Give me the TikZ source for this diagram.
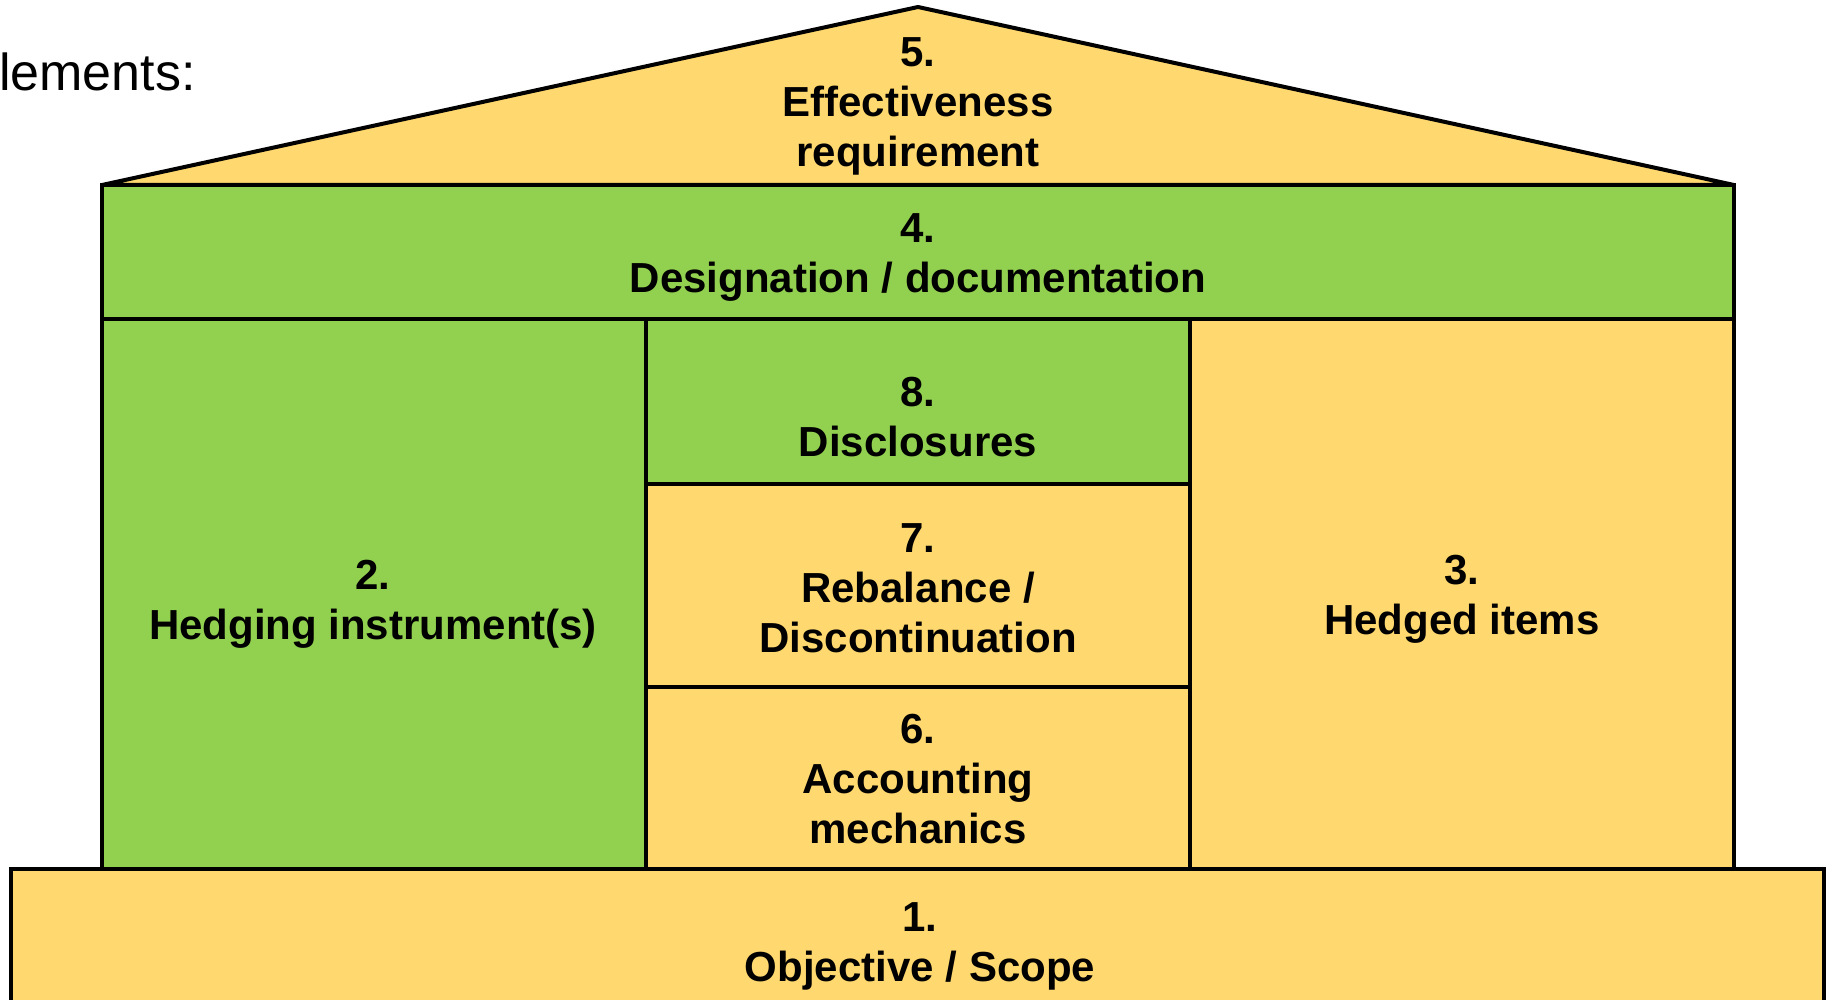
\documentclass[tikz,border=0pt]{standalone}
\usepackage{fontspec}
\setmainfont{Liberation Sans}
\begin{document}
\begin{tikzpicture}[x=1pt,y=-1pt,
  yel/.style={fill=houseyellow,draw=black,line width=4pt,line join=miter},
  grn/.style={fill=housegreen,draw=black,line width=4pt,line join=miter},
  lbl/.style={align=center,inner sep=0pt,font=\fontsize{42}{50}\selectfont\bfseries}]
\definecolor{houseyellow}{HTML}{FFD96F}
\definecolor{housegreen}{HTML}{92D050}
\clip (0,0) rectangle (1828,1000);
\fill[white] (0,0) rectangle (1828,1000);

% heading
\node[anchor=base west,inner sep=0pt,font=\fontsize{52}{60}\selectfont] (head) at (-1,91) {lements:};

% roof (bevelled so the eaves do not poke out past the walls)
\draw[yel,line join=bevel] (102,185) -- (918,7) -- (1734,185) -- cycle;
% band under the roof
\draw[grn] (102,185) rectangle (1734,319);
% pillars
\draw[grn] (102,319) rectangle (646,869);
\draw[yel] (1190,319) rectangle (1734,869);
% middle stack
\draw[grn] (646,319) rectangle (1190,484);
\draw[yel] (646,484) rectangle (1190,687);
\draw[yel] (646,687) rectangle (1190,869);
% foundation
\draw[yel] (11,869) rectangle (1824,1020);

% labels
\node[lbl] (roof)  at (918,106) {5.\\Effectiveness\\requirement};
\node[lbl] (band)  at (918,258) {4.\\Designation / documentation};
\node[lbl] (left)  at (373,604) {2.\\Hedging instrument(s)};
\node[lbl] (right) at (1462,599) {3.\\Hedged items};
\node[lbl] (disc)  at (918,417) {8.\\Disclosures};
\node[lbl] (rebal) at (918,588) {7.\\Rebalance /\\Discontinuation};
\node[lbl] (mech)  at (918,779) {6.\\Accounting\\mechanics};
\node[lbl] (base)  at (920,946) {1.\\Objective / Scope};
\end{tikzpicture}
\end{document}
